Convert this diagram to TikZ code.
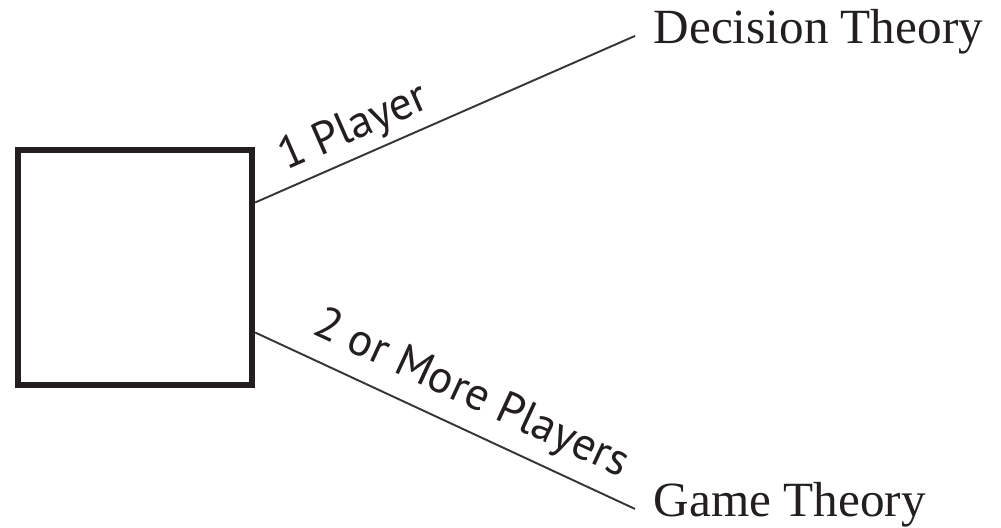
\documentclass[tikz,border=0pt]{standalone}
\usepackage{fontspec}
\setmainfont{Liberation Serif}
\newfontfamily\labelfont{PT Sans}
\usepackage{tikz}
\usetikzlibrary{positioning}
\definecolor{boxink}{HTML}{231F20}

\begin{document}
\begin{tikzpicture}[
  font=\fontsize{14}{16}\selectfont,
  player/.style={draw=boxink,line width=1.8pt,minimum width=2.34cm,minimum height=2.35cm,inner sep=0pt},
  theory/.style={anchor=base west,inner sep=1.8mm,text=boxink},
  branch/.style={draw=boxink!90,line width=0.55pt},
  count/.style={sloped,inner sep=0pt,font=\labelfont\fontsize{13}{15}\selectfont,text=boxink}
]
\useasboundingbox (0,0) rectangle (10.01,5.28);
\node[player] (box) at (1.35,2.605) {};
\node[theory] (dec) at (6.35,4.84) {Decision Theory};
\node[theory] (game) at (6.35,0.11) {Game Theory};
\draw[branch] ([yshift=6.5mm]box.east) -- node[count,pos=0.29,above=0.6mm] {1 Player} (dec.mid west);
\draw[branch] ([yshift=-6.5mm]box.east) -- node[count,pos=0.53,above=1.2mm] {2 or More Players} (game.mid west);
\end{tikzpicture}
\end{document}
